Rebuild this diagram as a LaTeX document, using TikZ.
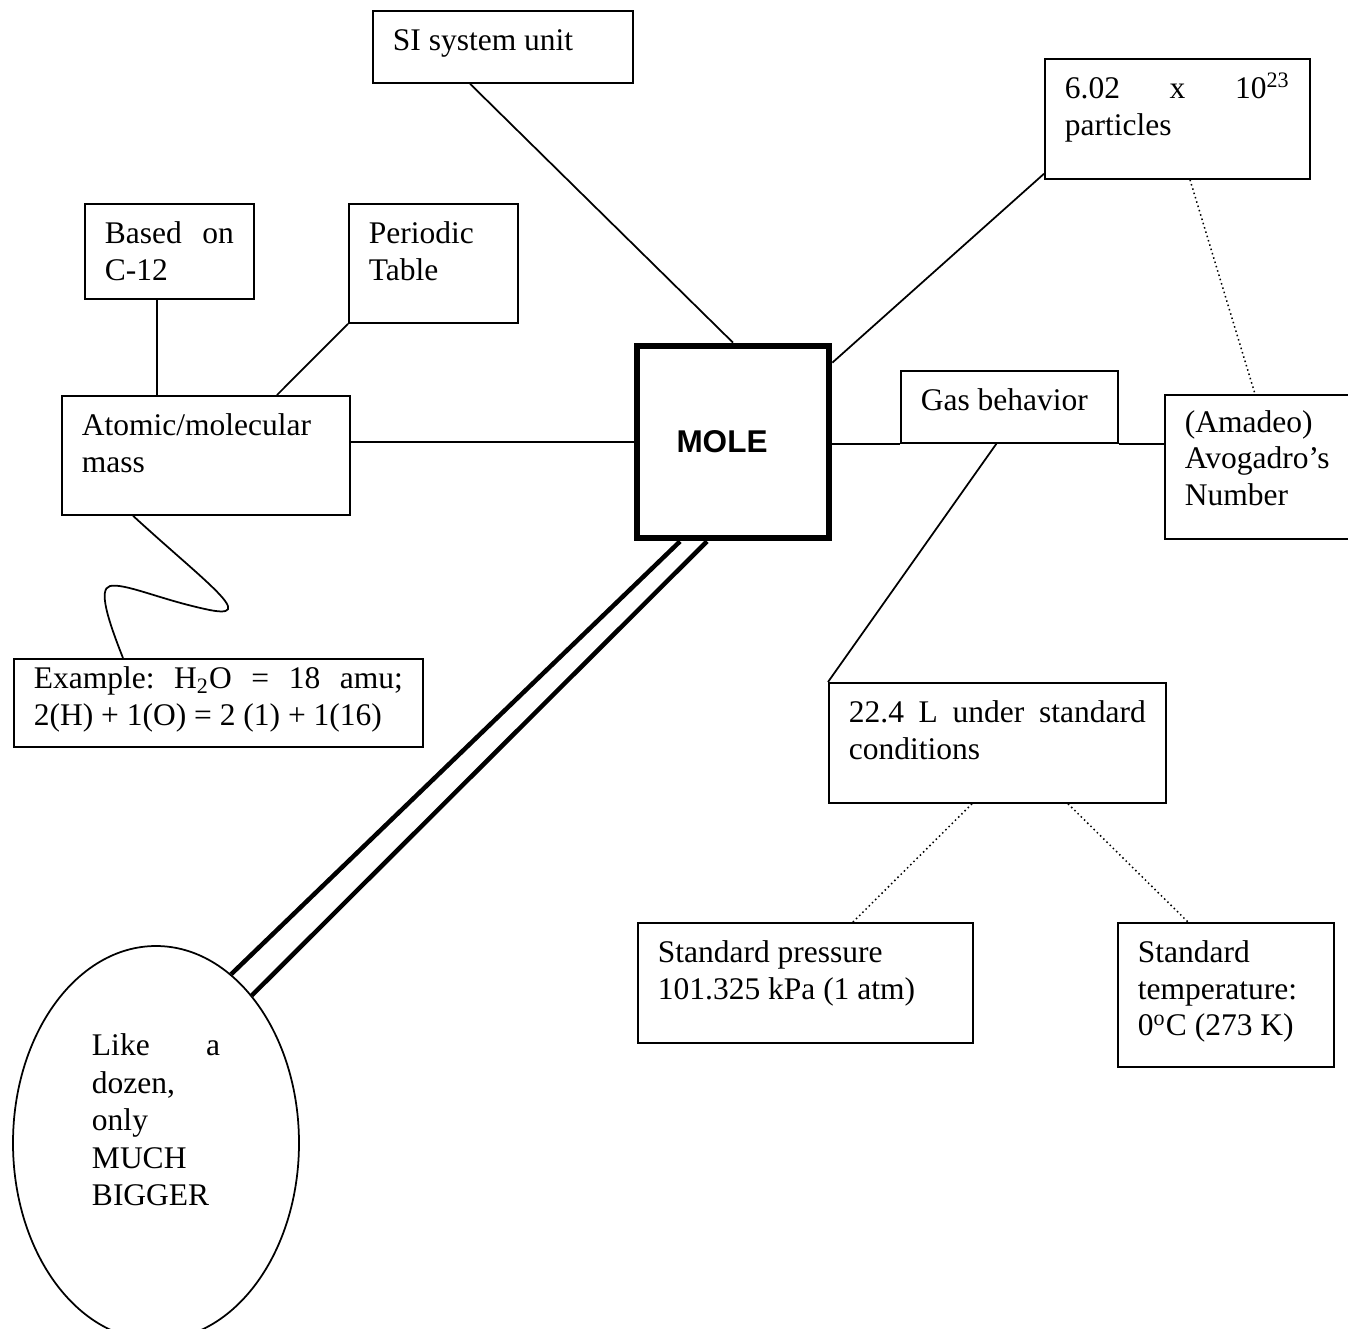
\documentclass[tikz,border=0pt]{standalone}
\usepackage{fontspec}
\setmainfont{Liberation Serif}
\newfontfamily\arialfont{Liberation Sans}
\usetikzlibrary{shapes,calc}
% text set at the top of a box: [first baseline]{width}{height}{text}
\newcommand{\boxtext}[4][16pt]{\parbox[c][#3][t]{#2}{\rule{0pt}{#1}#4}}

\begin{document}
\begin{tikzpicture}[x=0.4pt,y=-0.4pt,line width=0.7pt,
    font=\fontsize{12.6}{14.6}\selectfont,
    box/.style={draw,rectangle,anchor=north west,inner xsep=8pt,inner ysep=0pt},
    dots/.style={dash pattern=on 0.6pt off 1.2pt,line width=0.6pt},
    twin/.style={line width=1.8pt}]
  \clip (0,0) rectangle (1348,1328);

  % the middle
  \node[draw,line width=2.7pt,minimum size=76.8pt,inner sep=0pt,
        font=\arialfont\bfseries\fontsize{12.6}{14.6}\selectfont] (mole) at (733,442) {\hspace*{-8.8pt}MOLE};

  \node[box] (si) at (372,10) {\boxtext{88pt}{28.8pt}{SI system unit}};
  \node[box] (num) at (1044,58) {\boxtext{90pt}{48pt}{6.02\hfill x\hfill 10\textsuperscript{23}\\particles}};
  \node[box] (c12) at (84,203) {\boxtext{51.6pt}{38pt}{Based\hfill on\\C-12}};
  \node[box] (ptable) at (348,203) {\boxtext{51.6pt}{47.6pt}{Periodic\\Table}};
  \node[box] (mass) at (61,395) {\boxtext{99.2pt}{47.6pt}{Atomic/molecular\\mass}};
  \node[box] (gas) at (900,370) {\boxtext{70.8pt}{28.8pt}{Gas behavior}};
  \node[box] (avo) at (1164,394) {\boxtext[15pt]{64pt}{57.6pt}{(Amadeo)\\Avogadro’s\\Number}};
  \node[box] (ex) at (13,658) {\boxtext[12pt]{147.6pt}{35.2pt}{Example:\hfill H\textsubscript{2}O\hfill =\hfill 18\hfill amu;\\2(H) + 1(O) = 2 (1) + 1(16)}};
  \node[box] (std22) at (828,682) {\boxtext{118.8pt}{48pt}{22.4\hfill L\hfill under\hfill standard\\conditions}};
  \node[box] (press) at (637,922) {\boxtext{118pt}{48pt}{Standard pressure\\101.325 kPa (1 atm)}};
  \node[box] (temp) at (1117,922) {\boxtext{70.4pt}{57.6pt}{Standard\\temperature:\\0\textsuperscript{o}C (273 K)}};
  \node[draw,ellipse,minimum width=114.4pt,minimum height=157.6pt,inner sep=0pt,
        font=\fontsize{12.6}{15}\selectfont] (big) at (156,1143)
        {\parbox[c][87.2pt][t]{51.2pt}{Like\hfill a\\dozen,\\only\\MUCH\\BIGGER}};

  % connectors
  \draw ($(si.south west)+(98,0)$) -- (mole.north);
  \draw ($(num.south west)+(0,-6)$) -- ($(mole.north east)+(0,20)$);
  \draw ($(c12.south west)+(73,0)$) -- ($(mass.north west)+(96,0)$);
  \draw (ptable.south west) -- ($(mass.north west)+(216,0)$);
  \draw (mole.west) -- (mole.west -| mass.east);
  \draw (gas.south west -| mole.east) -- (gas.south west);
  \draw (gas.south east) -- (gas.south east -| avo.west);
  \draw ($(gas.south)+(-13,0)$) -- (std22.north west);
  \draw[dots] ($(num.south west)+(146,0)$) -- ($(avo.north west)+(91,0)$);
  \draw[dots] ($(std22.south west)+(144,0)$) -- ($(press.north west)+(216,0)$);
  \draw[dots] ($(std22.south west)+(240,0)$) -- ($(temp.north west)+(71,0)$);
  \draw ($(mass.south west)+(72,0)$) .. controls (205,582) and (262,622) .. (205,609)
        .. controls (159,599) and (125,583) .. (110,586)
        .. controls (98,589) and (108,620) .. ($(ex.north west)+(110,0)$);
  \draw[twin] ($(mole.south)+(-53,0)$) -- (big.66);
  \draw[twin] ($(mole.south)+(-26,0)$) -- (big.57);
\end{tikzpicture}
\end{document}
